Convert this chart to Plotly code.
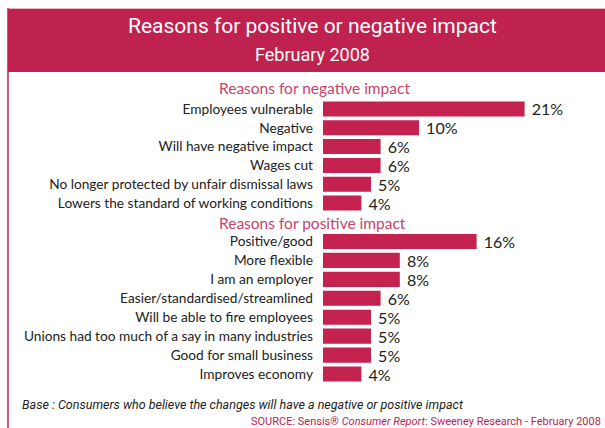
import plotly.graph_objects as go

# Survey results, February 2008 (percent of consumers)
neg_reasons = [
    "Employees vulnerable",
    "Negative",
    "Will have negative impact",
    "Wages cut",
    "No longer protected by unfair dismissal laws",
    "Lowers the standard of working conditions",
]
neg_values = [21, 10, 6, 6, 5, 4]

pos_reasons = [
    "Positive/good",
    "More flexible",
    "I am an employer",
    "Easier/standardised/streamlined",
    "Will be able to fire employees",
    "Unions had too much of a say in many industries",
    "Good for small business",
    "Improves economy",
]
pos_values = [16, 8, 8, 6, 5, 5, 5, 4]

title_text = "Reasons for positive or negative impact"
subtitle_text = "February 2008"
neg_heading = "Reasons for negative impact"
pos_heading = "Reasons for positive impact"
base_note = "Base : Consumers who believe the changes will have a negative or positive impact"

W, H = 605, 428
CRIMSON = "#C0224F"
BAR = "#C42350"
HEAD = "#C9426B"
INK = "#222222"
LABEL_FONT = "Lato"
TITLE_FONT = "Roboto"


def px(x):
    return x / W


def py(y):
    return 1 - y / H


fig = go.Figure()

for vals, cats, xa, ya in [(neg_values, neg_reasons, "x", "y"),
                           (pos_values, pos_reasons, "x2", "y2")]:
    fig.add_trace(go.Bar(
        x=vals, y=cats, orientation="h",
        xaxis=xa, yaxis=ya,
        marker=dict(color=BAR, line=dict(width=0)),
        width=0.8,
        text=[f"\u00a0{v}%" for v in vals],
        textposition="outside", cliponaxis=False, constraintext="none",
        textfont=dict(family=LABEL_FONT, size=16, color=INK),
        hoverinfo="skip",
    ))

# roughly 9.6 px per percentage point, bars starting at x = 323 px
x_dom = [px(323), 1.0]
x_max = (W - 323) / 9.6
xcommon = dict(range=[0, x_max], showgrid=False, zeroline=False,
               showticklabels=False, showline=False, fixedrange=True)

ycommon = dict(autorange="reversed", showgrid=False, zeroline=False,
               showline=False, ticks="", ticklabelstandoff=9,
               tickfont=dict(family=LABEL_FONT, size=13.7, color=INK))

fig.update_layout(
    width=W, height=H,
    margin=dict(l=0, r=0, t=0, b=0),
    paper_bgcolor="white", plot_bgcolor="rgba(0,0,0,0)",
    showlegend=False,
    bargap=0.2,
    xaxis=dict(domain=x_dom, anchor="y", **xcommon),
    xaxis2=dict(domain=x_dom, anchor="y2", **xcommon),
    yaxis=dict(domain=[py(212.5), py(99.5)], anchor="x", **ycommon),
    yaxis2=dict(domain=[py(383.5), py(232)], anchor="x2", **ycommon),
)

# header band and frame
fig.add_shape(type="rect", xref="paper", yref="paper",
              x0=px(8), x1=1.0, y0=py(72), y1=py(9),
              fillcolor=CRIMSON, line=dict(width=0), layer="below")
fig.add_shape(type="line", xref="paper", yref="paper",
              x0=px(8), x1=1.0, y0=py(8.5), y1=py(8.5),
              line=dict(color="#E6B3C2", width=1))
fig.add_shape(type="line", xref="paper", yref="paper",
              x0=px(8), x1=px(8), y0=py(8), y1=0,
              line=dict(color=CRIMSON, width=1.5))

ann = []
ann.append(dict(text=title_text, x=px(312), y=py(26), xref="paper", yref="paper",
                xanchor="center", yanchor="middle", showarrow=False,
                font=dict(family=TITLE_FONT, size=21, color="white")))
ann.append(dict(text=subtitle_text, x=px(312), y=py(55), xref="paper", yref="paper",
                xanchor="center", yanchor="middle", showarrow=False,
                font=dict(family=TITLE_FONT, size=18, color="white")))
ann.append(dict(text=neg_heading, x=px(217), y=py(88), xref="paper", yref="paper",
                xanchor="left", yanchor="middle", showarrow=False,
                font=dict(family=LABEL_FONT, size=15.5, color=HEAD)))
ann.append(dict(text=pos_heading, x=px(217), y=py(223), xref="paper", yref="paper",
                xanchor="left", yanchor="middle", showarrow=False,
                font=dict(family=LABEL_FONT, size=15.5, color=HEAD)))
ann.append(dict(text=f"<i>{base_note}</i>", x=px(20), y=py(404), xref="paper", yref="paper",
                xanchor="left", yanchor="middle", showarrow=False,
                font=dict(family=TITLE_FONT, size=12.5, color=INK)))
ann.append(dict(text="SOURCE: Sensis\u00ae <i>Consumer Report</i>: Sweeney Research - February 2008",
                x=px(603), y=py(421), xref="paper", yref="paper",
                xanchor="right", yanchor="middle", showarrow=False,
                font=dict(family=TITLE_FONT, size=11, color=CRIMSON)))
fig.update_layout(annotations=ann)

fig.write_html("out.html")
